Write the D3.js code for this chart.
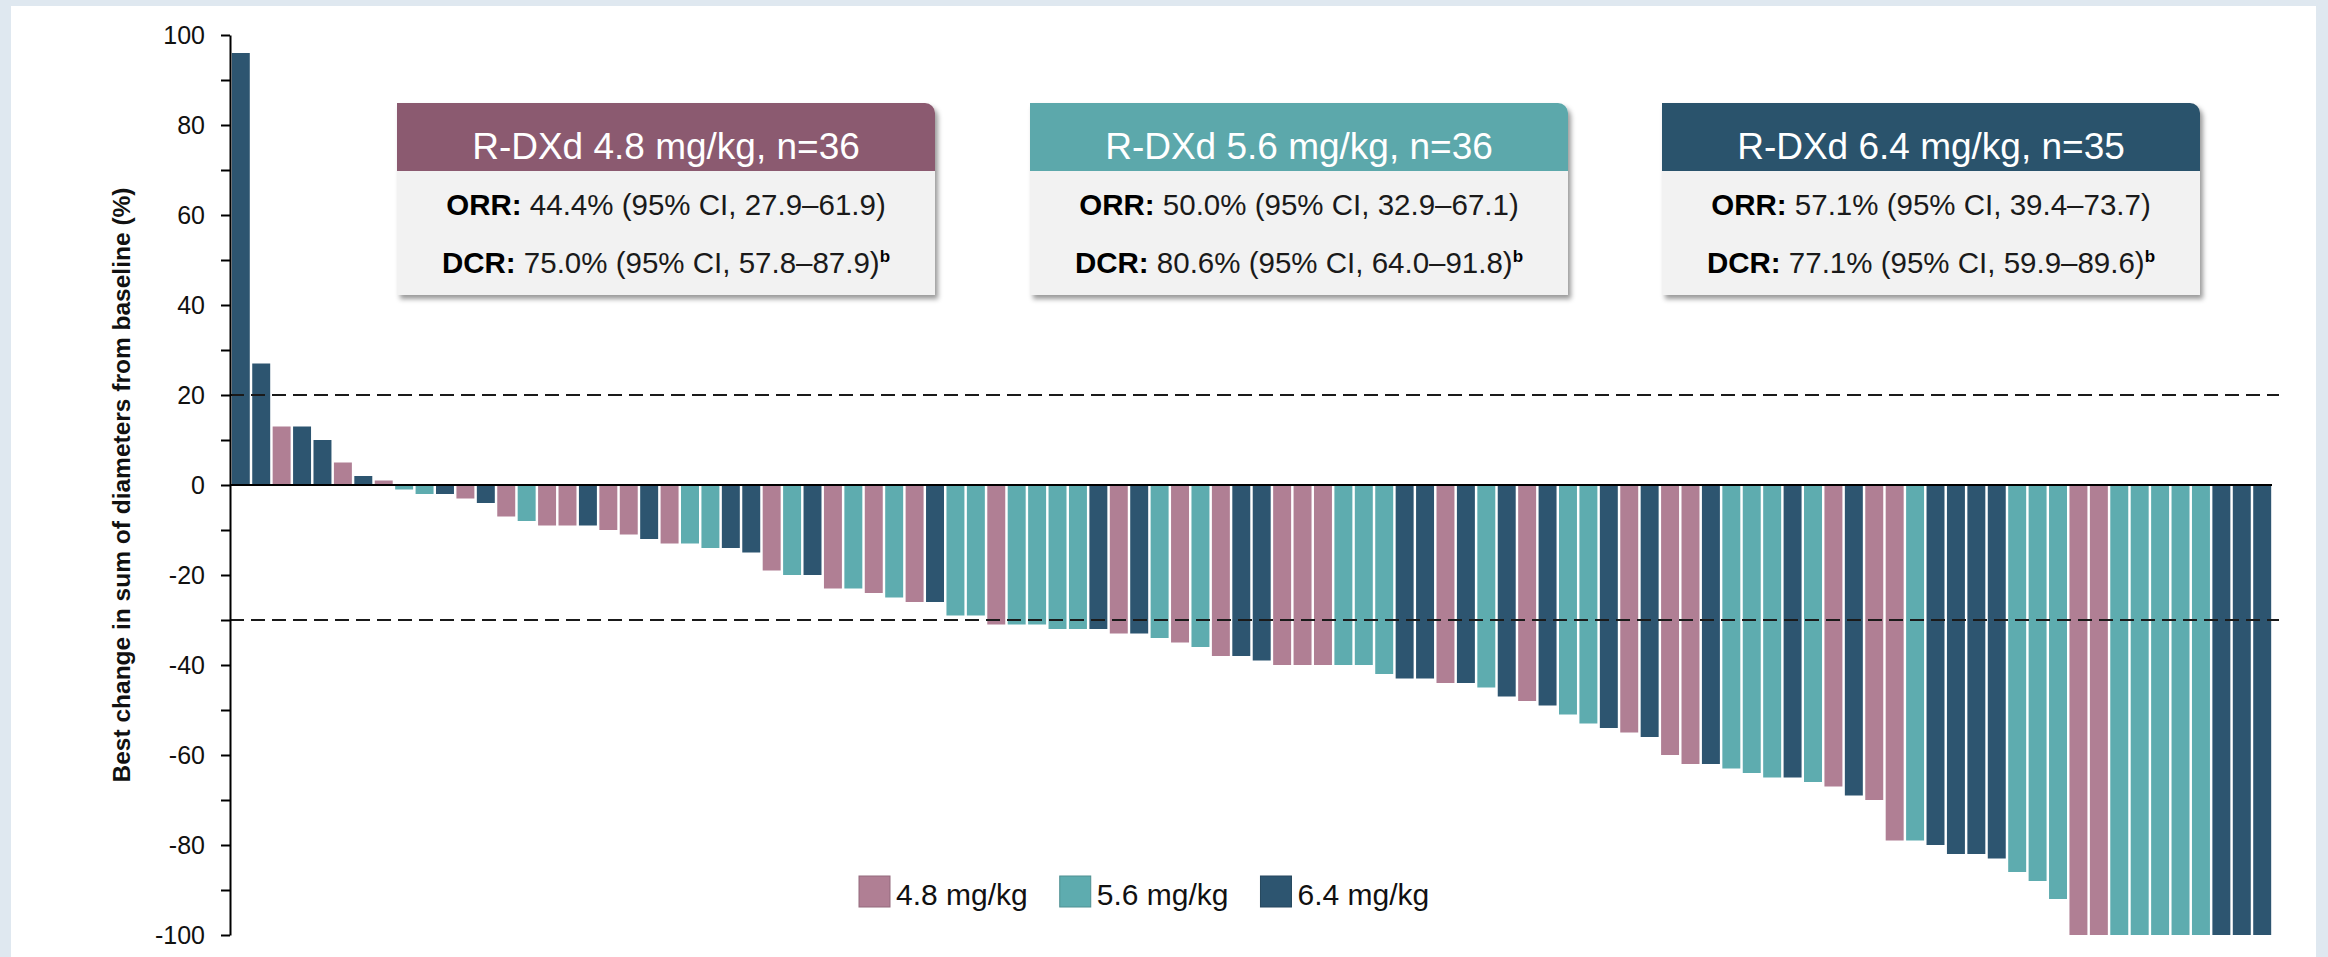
<!DOCTYPE html>
<html>
<head>
<meta charset="utf-8">
<script src="https://cdn.jsdelivr.net/npm/d3@7/dist/d3.min.js"></script>
<style>
  html, body { margin: 0; padding: 0; background: #dfe8f0; }
  svg { display: block; }
  text { font-family: "Liberation Sans", Arial, sans-serif; }
</style>
</head>
<body>
<svg id="chart" width="2328" height="957"></svg>
<script>
// Dose groups and colours
const doseLabels = ["4.8 mg/kg", "5.6 mg/kg", "6.4 mg/kg"];
const barColors = ["#b07f94", "#5eacaf", "#2d5570"];
const headerColors = ["#8b5a6f", "#5ca8ab", "#2c536c"];

// Best % change in sum of diameters, one value per patient (sorted)
const bestChange = [
  96, 27, 13, 13, 10, 5, 2, 1, -1, -2,
  -2, -3, -4, -7, -8, -9, -9, -9, -10, -11,
  -12, -13, -13, -14, -14, -15, -19, -20, -20, -23,
  -23, -24, -25, -26, -26, -29, -29, -31, -31, -31,
  -32, -32, -32, -33, -33, -34, -35, -36, -38, -38,
  -39, -40, -40, -40, -40, -40, -42, -43, -43, -44,
  -44, -45, -47, -48, -49, -51, -53, -54, -55, -56,
  -60, -62, -62, -63, -64, -65, -65, -66, -67, -69,
  -70, -79, -79, -80, -82, -82, -83, -86, -88, -92,
  -100, -100, -100, -100, -100, -100, -100, -100, -100, -100
];

// Dose group of each patient (same order as bestChange)
const patientDose = [
  "6.4", "6.4", "4.8", "6.4", "6.4", "4.8", "6.4", "4.8", "5.6", "5.6",
  "6.4", "4.8", "6.4", "4.8", "5.6", "4.8", "4.8", "6.4", "4.8", "4.8",
  "6.4", "4.8", "5.6", "5.6", "6.4", "6.4", "4.8", "5.6", "6.4", "4.8",
  "5.6", "4.8", "5.6", "4.8", "6.4", "5.6", "5.6", "4.8", "5.6", "5.6",
  "5.6", "5.6", "6.4", "4.8", "6.4", "5.6", "4.8", "5.6", "4.8", "6.4",
  "6.4", "4.8", "4.8", "4.8", "5.6", "5.6", "5.6", "6.4", "6.4", "4.8",
  "6.4", "5.6", "6.4", "4.8", "6.4", "5.6", "5.6", "6.4", "4.8", "6.4",
  "4.8", "4.8", "6.4", "5.6", "5.6", "5.6", "6.4", "5.6", "4.8", "6.4",
  "4.8", "4.8", "5.6", "6.4", "6.4", "6.4", "6.4", "5.6", "5.6", "5.6",
  "4.8", "4.8", "5.6", "5.6", "5.6", "5.6", "5.6", "6.4", "6.4", "6.4"
];
const doseKeys = ["4.8", "5.6", "6.4"];

// Summary boxes
const boxTitles = ["R-DXd 4.8 mg/kg, n=36", "R-DXd 5.6 mg/kg, n=36", "R-DXd 6.4 mg/kg, n=35"];
const orrTexts = ["44.4% (95% CI, 27.9\u201361.9)", "50.0% (95% CI, 32.9\u201367.1)", "57.1% (95% CI, 39.4\u201373.7)"];
const dcrTexts = ["75.0% (95% CI, 57.8\u201387.9)", "80.6% (95% CI, 64.0\u201391.8)", "77.1% (95% CI, 59.9\u201389.6)"];

// Axis
const yTickValues = d3.range(-100, 101, 10);
const yTitle = "Best change in sum of diameters from baseline (%)";
const referenceLines = [20, -30];

const svg = d3.select("#chart");

// white panel
svg.append("rect").attr("x", 11).attr("y", 6).attr("width", 2305).attr("height", 960).attr("fill", "#ffffff");

const defs = svg.append("defs");
defs.append("filter").attr("id", "boxShadow")
  .attr("x", "-5%").attr("y", "-10%").attr("width", "115%").attr("height", "130%")
  .append("feDropShadow")
  .attr("dx", 3).attr("dy", 4).attr("stdDeviation", 2.5)
  .attr("flood-color", "#000").attr("flood-opacity", 0.4);

const plotLeft = 230, plotRight = 2272;
const y = d3.scaleLinear().domain([-100, 100]).range([935, 35]);
const x = d3.scaleBand().domain(d3.range(bestChange.length))
  .range([plotLeft + 1, plotRight]).paddingInner(0.12).paddingOuter(0.04);
const color = d3.scaleOrdinal().domain(doseKeys).range(barColors);

// bars
svg.append("g").selectAll("rect")
  .data(bestChange)
  .join("rect")
  .attr("x", (d, i) => x(i))
  .attr("width", x.bandwidth())
  .attr("y", d => y(Math.max(0, d)))
  .attr("height", d => Math.abs(y(d) - y(0)))
  .attr("fill", (d, i) => color(patientDose[i]));

// reference lines (PD +20%, PR -30%)
svg.append("g").selectAll("line")
  .data(referenceLines)
  .join("line")
  .attr("x1", plotLeft).attr("x2", plotRight + 7)
  .attr("y1", d => y(d)).attr("y2", d => y(d))
  .attr("stroke", "#1a1a1a").attr("stroke-width", 2)
  .attr("stroke-dasharray", "14,7");

// zero line
svg.append("line")
  .attr("x1", plotLeft).attr("x2", plotRight)
  .attr("y1", y(0)).attr("y2", y(0))
  .attr("stroke", "#000").attr("stroke-width", 2);

// y axis
const yAxis = d3.axisLeft(y)
  .tickValues(yTickValues)
  .tickSize(9).tickSizeOuter(0).tickPadding(16)
  .tickFormat(d => d % 20 === 0 ? String(d) : "");
const gy = svg.append("g").attr("transform", `translate(${plotLeft},0)`).call(yAxis);
gy.select(".domain").attr("stroke", "#000").attr("stroke-width", 2);
gy.selectAll(".tick line").attr("stroke", "#000").attr("stroke-width", 2);
gy.selectAll(".tick text")
  .attr("fill", "#111")
  .style("font-family", "'Liberation Sans', Arial, sans-serif")
  .style("font-size", "25px");

// y axis title
svg.append("text")
  .attr("transform", `translate(130,${y(0)}) rotate(-90)`)
  .attr("text-anchor", "middle")
  .attr("fill", "#111")
  .style("font-size", "24.5px")
  .style("font-weight", "bold")
  .text(yTitle);

// summary boxes
const boxX = [397, 1030, 1662];
const boxW = 538, boxTop = 103, headerH = 68, boxH = 192, radius = 10;
boxTitles.forEach((title, i) => {
  const g = svg.append("g").attr("filter", "url(#boxShadow)");
  const x0 = boxX[i], x1 = boxX[i] + boxW;
  g.append("rect")
    .attr("x", x0).attr("y", boxTop + headerH - 2)
    .attr("width", boxW).attr("height", boxH - headerH + 2)
    .attr("fill", "#f2f2f2");
  g.append("path")
    .attr("d", `M${x0},${boxTop} H${x1 - radius} A${radius},${radius} 0 0 1 ${x1},${boxTop + radius} V${boxTop + headerH} H${x0} Z`)
    .attr("fill", headerColors[i]);
  const cx = x0 + boxW / 2;
  svg.append("text")
    .attr("x", cx).attr("y", boxTop + 56)
    .attr("text-anchor", "middle")
    .attr("fill", "#ffffff")
    .style("font-size", "37px")
    .text(title);
  const orr = svg.append("text")
    .attr("x", cx).attr("y", boxTop + 112)
    .attr("text-anchor", "middle").attr("fill", "#1a1a1a")
    .style("font-size", "29.5px");
  orr.append("tspan").style("font-weight", "bold").attr("fill", "#000").text("ORR:");
  orr.append("tspan").text(" " + orrTexts[i]);
  const dcr = svg.append("text")
    .attr("x", cx).attr("y", boxTop + 170)
    .attr("text-anchor", "middle").attr("fill", "#1a1a1a")
    .style("font-size", "29.5px");
  dcr.append("tspan").style("font-weight", "bold").attr("fill", "#000").text("DCR:");
  dcr.append("tspan").text(" " + dcrTexts[i]);
  dcr.append("tspan").attr("dy", -11).style("font-size", "17px").style("font-weight", "bold").attr("fill", "#000").text("b");
});

// legend
let lx = 859;
const legendTop = 876, sq = 31;
doseLabels.forEach((lab, i) => {
  svg.append("rect")
    .attr("x", lx).attr("y", legendTop).attr("width", sq).attr("height", sq)
    .attr("fill", barColors[i])
    .attr("stroke", d3.color(barColors[i]).darker(0.5)).attr("stroke-width", 1);
  const t = svg.append("text")
    .attr("x", lx + sq + 6).attr("y", legendTop + 29)
    .attr("fill", "#111")
    .style("font-size", "30px")
    .text(lab);
  lx = lx + sq + 6 + t.node().getComputedTextLength() + 32;
});
</script>
</body>
</html>
